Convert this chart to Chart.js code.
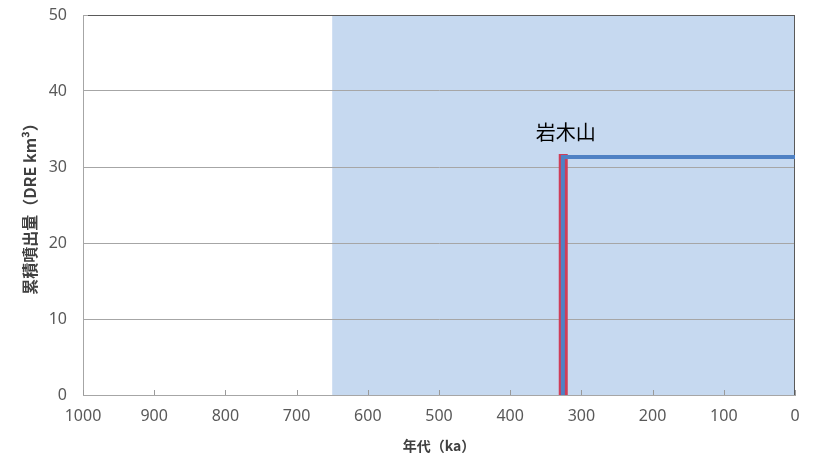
<!DOCTYPE html>
<html>
<head>
<meta charset="utf-8">
<script src="https://cdn.jsdelivr.net/npm/chart.js@4.4.1/dist/chart.umd.min.js"></script>
<style>
  html, body { margin: 0; padding: 0; background: #fff; }
  #wrap { width: 817px; height: 454px; }
</style>
</head>
<body>
<div id="wrap"><canvas id="c" width="817" height="454"></canvas></div>
<script>
// 岩木山 cumulative eruption volume
const volcanoName = '岩木山';
const stepAge = [326, 326, 0];          // ka
const stepVolume = [0, 31.3, 31.3];     // DRE km3
const markAge = [325.5, 325.5];         // red marker
const markVolume = [0, 31.7];
const shadedAge = [650, 0];             // shaded period (ka)
const xTicks = [1000, 900, 800, 700, 600, 500, 400, 300, 200, 100, 0];
const yTicks = [0, 10, 20, 30, 40, 50];

const toPts = (xs, ys) => xs.map((x, i) => ({ x: x, y: ys[i] }));

const shadePlugin = {
  id: 'shade',
  beforeDraw(chart) {
    const { ctx, scales: { x, y } } = chart;
    const x0 = x.getPixelForValue(shadedAge[0]);
    const x1 = x.getPixelForValue(shadedAge[1]);
    const y0 = y.getPixelForValue(50);
    const y1 = y.getPixelForValue(0);
    ctx.save();
    ctx.fillStyle = '#c6d9f0';
    ctx.fillRect(x0, y0, x1 - x0, y1 - y0);
    ctx.restore();
  },
  afterDatasetsDraw(chart) {
    const { ctx, scales: { x, y } } = chart;
    ctx.save();
    // inward tick marks on x axis
    ctx.strokeStyle = '#9a9a9a';
    ctx.lineWidth = 1;
    const yb = y.getPixelForValue(0);
    xTicks.forEach(v => {
      const px = Math.round(x.getPixelForValue(v)) + 0.5;
      ctx.beginPath();
      ctx.moveTo(px, yb);
      ctx.lineTo(px, yb - 5);
      ctx.stroke();
    });
    // volcano label
    ctx.fillStyle = '#000';
    ctx.font = '20px "Noto Sans CJK JP"';
    ctx.textAlign = 'center';
    ctx.textBaseline = 'middle';
    ctx.fillText(volcanoName, x.getPixelForValue(stepAge[0] - 4), y.getPixelForValue(stepVolume[1] + 3.2));
    ctx.restore();
  }
};

new Chart(document.getElementById('c').getContext('2d'), {
  type: 'scatter',
  data: {
    datasets: [
      {
        data: toPts(stepAge, stepVolume),
        showLine: true,
        borderColor: '#4f81c4',
        borderWidth: 4,
        pointRadius: 0,
        order: 0
      },
      {
        data: toPts(markAge, markVolume),
        showLine: true,
        borderColor: '#cf3d58',
        borderWidth: 9,
        pointRadius: 0,
        order: 1
      },
      {
        data: toPts([993, 0, 0], [50, 50, 0]),
        showLine: true,
        borderColor: '#5a5a5a',
        borderWidth: 2,
        pointRadius: 0,
        order: 2
      }
    ]
  },
  options: {
    responsive: false,
    animation: false,
    layout: { padding: { top: 15, right: 22, left: 0, bottom: 0 } },
    plugins: { legend: { display: false }, tooltip: { enabled: false } },
    scales: {
      x: {
        type: 'linear',
        reverse: true,
        min: 0,
        max: 1000,
        afterBuildTicks: s => { s.ticks = xTicks.map(v => ({ value: v })); },
        grid: { display: false, drawTicks: false },
        border: { display: true, color: '#a6a6a6', width: 1 },
        ticks: {
          color: '#595959', font: { family: 'Noto Sans', size: 16 }, padding: 12, maxRotation: 0,
          callback: v => String(v)
        },
        title: {
          display: true,
          text: '年代（ka）',
          color: '#404040',
          font: { family: 'Noto Sans CJK JP', size: 14, weight: 'bold' },
          padding: { top: 0, bottom: 0 }
        },
        afterFit: s => { s.height = 59; s.paddingLeft = 0; s.paddingRight = 0; }
      },
      y: {
        min: 0,
        max: 50,
        afterBuildTicks: s => { s.ticks = yTicks.map(v => ({ value: v })); },
        grid: { color: '#a6a6a6', lineWidth: 1, drawTicks: false },
        border: { display: true, color: '#a6a6a6', width: 1 },
        ticks: { color: '#595959', font: { family: 'Noto Sans', size: 16 }, padding: 16 },
        title: {
          display: true,
          text: '累積噴出量（DRE km³）',
          color: '#404040',
          font: { family: 'Noto Sans CJK JP', size: 16, weight: 'bold' },
          padding: { top: 20, bottom: 0 }
        },
        afterFit: s => { s.width = 83; s.paddingTop = 0; s.paddingBottom = 0; }
      }
    }
  },
  plugins: [shadePlugin]
});
</script>
</body>
</html>
